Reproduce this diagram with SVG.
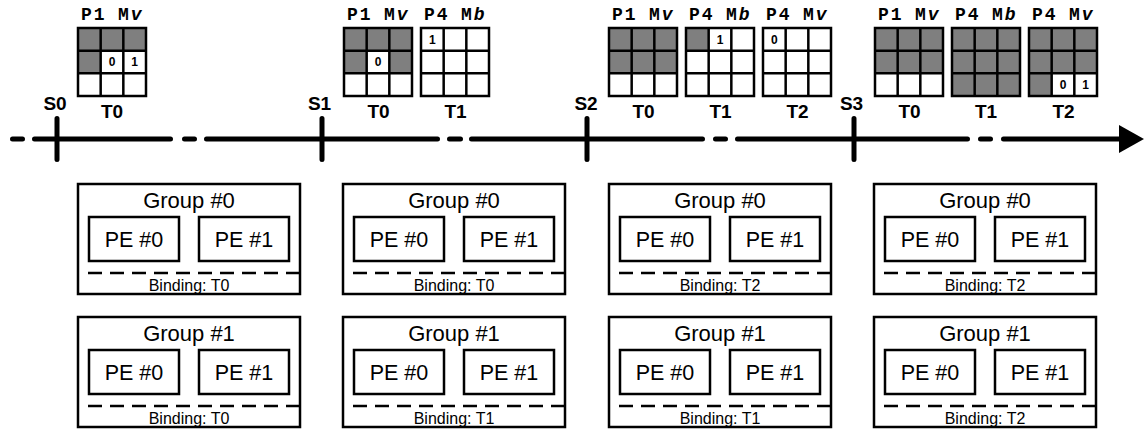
<svg xmlns="http://www.w3.org/2000/svg" xmlns:xlink="http://www.w3.org/1999/xlink" width="1144" height="429" viewBox="0 0 1144 429">
<style>
.gl{fill:none;stroke:#000;stroke-width:2.5}
.gr{fill:#7f7f7f}
.num{font-family:"Liberation Sans",Arial,sans-serif;font-weight:bold;font-size:12px;text-anchor:middle}
.lbl{font-family:"Liberation Mono","Courier New",monospace;font-weight:bold;font-size:18px;letter-spacing:2px}
.it{font-style:italic}
.tl{font-family:"Liberation Sans",Arial,sans-serif;font-weight:bold;font-size:19px;text-anchor:middle}
.box{fill:#fff;stroke:#000;stroke-width:2.5}
.dash{stroke:#000;stroke-width:2.5;stroke-dasharray:14 8}
.gt{font-family:"Liberation Sans",Arial,sans-serif;font-size:22px;text-anchor:middle}
.pt{font-family:"Liberation Sans",Arial,sans-serif;font-size:21.5px;text-anchor:middle}
.bt{font-family:"Liberation Sans",Arial,sans-serif;font-size:16px;text-anchor:middle}
.ln{stroke:#000;stroke-width:5;stroke-linecap:round;fill:none}
</style>
<defs>
<path id="grid" class="gl" d="M0 0H68V68H0Z M22.67 0V68 M45.33 0V68 M0 22.67H68 M0 45.33H68"/>
<g id="grp">
<rect class="box" x="0" y="0" width="222" height="110"/>
<rect class="box" x="11" y="33" width="90" height="44"/>
<rect class="box" x="121" y="33" width="90" height="44"/>
<text class="pt" x="56" y="62.5">PE #0</text>
<text class="pt" x="166" y="62.5">PE #1</text>
<line class="dash" x1="10" y1="89" x2="222" y2="89"/>
</g>
</defs>

<g id="connectors">
<path class="ln" d="M12.5 139H22.5 M34.5 139H170.5 M184.5 139H194.5 M206.5 139H437.5 M449.5 139H460.5 M471.5 139H702.5 M715.5 139H725.5 M737.5 139H967.5 M980.5 139H990.5 M1003.5 139H1122"/>
<polygon points="1119,125 1144,139 1119,153" fill="#000"/>
<path class="ln" d="M57 118.5V159.5 M322 118.5V159.5 M587 118.5V159.5 M854 118.5V159.5"/>
</g>

<g id="stage-labels">
<text class="tl" x="55" y="110">S0</text>
<text class="tl" x="319.5" y="110">S1</text>
<text class="tl" x="586" y="110">S2</text>
<text class="tl" x="851.5" y="110">S3</text>
</g>

<!-- S0 -->
<g id="s0-t0">
<rect class="gr" x="78" y="28" width="68" height="22.67"/>
<rect class="gr" x="78" y="50.67" width="22.67" height="22.67"/>
<use xlink:href="#grid" x="78" y="28"/>
<text class="num" x="112" y="66.3">0</text>
<text class="num" x="134.67" y="66.3">1</text>
<text class="lbl" x="81" y="20">P1<tspan x="118">M</tspan><tspan class="it">v</tspan></text>
<text class="tl" x="112" y="118">T0</text>
</g>

<!-- S1 -->
<g id="s1-t0">
<rect class="gr" x="344" y="28" width="68" height="22.67"/>
<rect class="gr" x="344" y="50.67" width="22.67" height="22.67"/>
<rect class="gr" x="389.33" y="50.67" width="22.67" height="22.67"/>
<use xlink:href="#grid" x="344" y="28"/>
<text class="num" x="378" y="66.3">0</text>
<text class="lbl" x="347" y="20">P1<tspan x="384">M</tspan><tspan class="it">v</tspan></text>
<text class="tl" x="378.5" y="118">T0</text>
</g>
<g id="s1-t1">
<use xlink:href="#grid" x="421" y="28"/>
<text class="num" x="432.33" y="43.6">1</text>
<text class="lbl" x="424" y="20">P4<tspan x="461">M</tspan><tspan class="it">b</tspan></text>
<text class="tl" x="455.5" y="118">T1</text>
</g>

<!-- S2 -->
<g id="s2-t0">
<rect class="gr" x="609" y="28" width="68" height="45.33"/>
<use xlink:href="#grid" x="609" y="28"/>
<text class="lbl" x="612" y="20">P1<tspan x="649">M</tspan><tspan class="it">v</tspan></text>
<text class="tl" x="643.5" y="118">T0</text>
</g>
<g id="s2-t1">
<rect class="gr" x="686" y="28" width="22.67" height="22.67"/>
<use xlink:href="#grid" x="686" y="28"/>
<text class="num" x="720" y="43.6">1</text>
<text class="lbl" x="689" y="20">P4<tspan x="726">M</tspan><tspan class="it">b</tspan></text>
<text class="tl" x="720.5" y="118">T1</text>
</g>
<g id="s2-t2">
<use xlink:href="#grid" x="763" y="28"/>
<text class="num" x="774.33" y="43.6">0</text>
<text class="lbl" x="766" y="20">P4<tspan x="803">M</tspan><tspan class="it">v</tspan></text>
<text class="tl" x="797.5" y="118">T2</text>
</g>

<!-- S3 -->
<g id="s3-t0">
<rect class="gr" x="875" y="28" width="68" height="45.33"/>
<use xlink:href="#grid" x="875" y="28"/>
<text class="lbl" x="878" y="20">P1<tspan x="915">M</tspan><tspan class="it">v</tspan></text>
<text class="tl" x="909.5" y="118">T0</text>
</g>
<g id="s3-t1">
<rect class="gr" x="952" y="28" width="68" height="68"/>
<use xlink:href="#grid" x="952" y="28"/>
<text class="lbl" x="955" y="20">P4<tspan x="992">M</tspan><tspan class="it">b</tspan></text>
<text class="tl" x="986" y="118">T1</text>
</g>
<g id="s3-t2">
<rect class="gr" x="1029" y="28" width="68" height="45.33"/>
<rect class="gr" x="1029" y="73.33" width="22.67" height="22.67"/>
<use xlink:href="#grid" x="1029" y="28"/>
<text class="num" x="1063" y="89">0</text>
<text class="num" x="1085.67" y="89">1</text>
<text class="lbl" x="1032" y="20">P4<tspan x="1069">M</tspan><tspan class="it">v</tspan></text>
<text class="tl" x="1063.5" y="118">T2</text>
</g>

<!-- Groups -->
<g id="c0-group0"><use xlink:href="#grp" x="78" y="184"/><text class="gt" x="189" y="208">Group #0</text><text class="bt" x="189" y="291">Binding: T0</text></g>
<g id="c0-group1"><use xlink:href="#grp" x="78" y="317"/><text class="gt" x="189" y="341">Group #1</text><text class="bt" x="189" y="424">Binding: T0</text></g>
<g id="c1-group0"><use xlink:href="#grp" x="343" y="184"/><text class="gt" x="454" y="208">Group #0</text><text class="bt" x="454" y="291">Binding: T0</text></g>
<g id="c1-group1"><use xlink:href="#grp" x="343" y="317"/><text class="gt" x="454" y="341">Group #1</text><text class="bt" x="454" y="424">Binding: T1</text></g>
<g id="c2-group0"><use xlink:href="#grp" x="609" y="184"/><text class="gt" x="720" y="208">Group #0</text><text class="bt" x="720" y="291">Binding: T2</text></g>
<g id="c2-group1"><use xlink:href="#grp" x="609" y="317"/><text class="gt" x="720" y="341">Group #1</text><text class="bt" x="720" y="424">Binding: T1</text></g>
<g id="c3-group0"><use xlink:href="#grp" x="874" y="184"/><text class="gt" x="985" y="208">Group #0</text><text class="bt" x="985" y="291">Binding: T2</text></g>
<g id="c3-group1"><use xlink:href="#grp" x="874" y="317"/><text class="gt" x="985" y="341">Group #1</text><text class="bt" x="985" y="424">Binding: T2</text></g>
</svg>
